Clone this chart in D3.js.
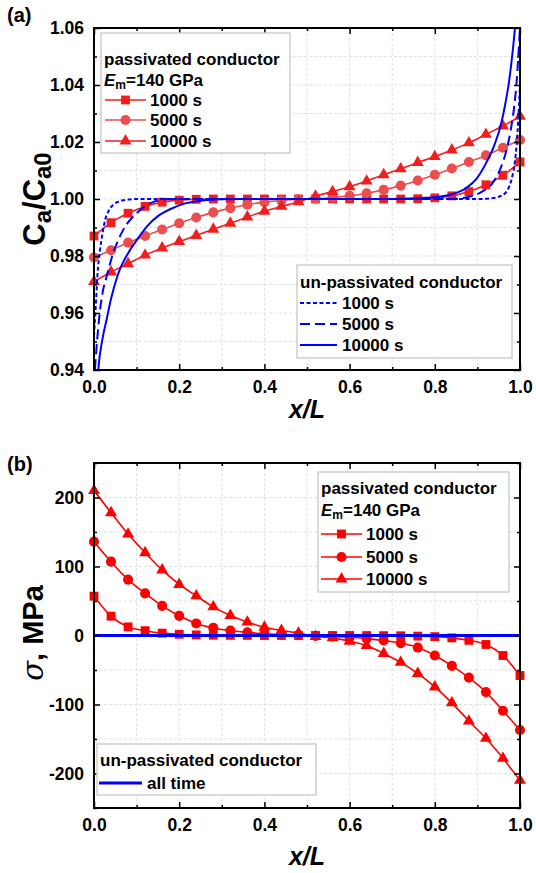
<!DOCTYPE html>
<html><head><meta charset="utf-8">
<script src="https://cdn.jsdelivr.net/npm/d3@7"></script>
<style>
body{margin:0;background:#fff;}
svg text{font-family:"Liberation Sans",Arial,sans-serif;font-weight:bold;fill:#000;}
</style></head><body>
<svg id="chart" width="536" height="873"></svg>
<script>
// ---------- DATA ----------
const xPos = [0,0.04,0.08,0.12,0.16,0.20,0.24,0.28,0.32,0.36,0.40,0.44,0.48,0.52,0.56,0.60,0.64,0.68,0.72,0.76,0.80,0.84,0.88,0.92,0.96,1.00];
// (a) normalized concentration, passivated conductor
const caP1000  = [0.987,0.9917,0.9950,0.9974,0.9989,0.9996,0.9999,1.0,1.0,1.0,1.0,1.0,1.0,1.0,1.0,1.0,1.0,1.0,1.0,1.0001,1.0004,1.0011,1.0026,1.0050,1.0083,1.013];
const caP5000  = [0.9795,0.982,0.9847,0.987,0.9893,0.9915,0.9935,0.9953,0.9968,0.998,0.9989,0.9995,0.9999,1.0001,1.0005,1.0011,1.002,1.0032,1.0047,1.0065,1.0085,1.0107,1.013,1.0153,1.018,1.0207];
const caP10000 = [0.971,0.9744,0.9773,0.9803,0.9828,0.9851,0.9872,0.9894,0.9915,0.9937,0.9957,0.9974,0.999,1.001,1.0026,1.0043,1.0063,1.0085,1.0106,1.0128,1.0149,1.0172,1.0197,1.0227,1.0256,1.029];
// (a) un-passivated conductor curves [x, Ca/Ca0]
const caU1000 = [[0,0.952],[0.004,0.962],[0.008,0.973],[0.014,0.982],[0.02,0.988],[0.026,0.9926],[0.035,0.996],[0.045,0.998],[0.06,0.9992],[0.08,0.9998],[0.1,1.0],[0.9,1.0],[0.93,1.0002],[0.95,1.0008],[0.965,1.002],[0.975,1.0045],[0.982,1.008],[0.988,1.013],[0.992,1.019],[0.996,1.028],[1.0,1.04]];
const caU5000 = [[0,0.935],[0.005,0.946],[0.01,0.955],[0.015,0.962],[0.02,0.967],[0.03,0.973],[0.045,0.981],[0.068,0.989],[0.1,0.995],[0.14,0.999],[0.18,1.0],[0.84,1.0],[0.88,1.0008],[0.91,1.0025],[0.935,1.0055],[0.955,1.011],[0.968,1.017],[0.978,1.024],[0.986,1.032],[0.992,1.041],[0.996,1.05],[1.0,1.06]];
const caU10000 = [[0,0.91],[0.005,0.928],[0.01,0.94],[0.02,0.951],[0.03,0.958],[0.04,0.965],[0.055,0.973],[0.08,0.981],[0.1,0.9855],[0.125,0.9905],[0.15,0.994],[0.18,0.9965],[0.21,0.9983],[0.25,0.9994],[0.3,0.9999],[0.35,1.0],[0.7,1.0],[0.78,1.0004],[0.83,1.0013],[0.87,1.0035],[0.9,1.0075],[0.92,1.0125],[0.94,1.019],[0.955,1.026],[0.965,1.033],[0.975,1.042],[0.985,1.055],[0.99,1.063],[1.0,1.085]];
// (b) stress, passivated conductor (MPa)
const sP1000  = [57,28,12.5,7,3.4,1.8,0.9,0.4,0.2,0.1,0,0,0,0,0,0,-0.1,-0.2,-0.4,-0.9,-1.6,-3.4,-7,-13,-29,-58];
const sP5000  = [136,107,81,61,43,28.5,17.5,11,7.2,4.5,2.6,1.4,0.5,-0.5,-1.4,-2.6,-4.5,-7.2,-11,-17.5,-29,-44,-61,-82,-109,-137];
const sP10000 = [210,178,147,120,95,74,57.5,41.5,29,19.5,12,7.3,3.4,-1.5,-3.4,-8.3,-14.6,-26,-39,-55,-74.6,-97.6,-124,-149,-178,-210];
// (b) un-passivated conductor, all time
const sU = [[0,0],[1,0]];
// ticks
const xMajor = [0,0.2,0.4,0.6,0.8,1.0];
const xMinor = [0.1,0.3,0.5,0.7,0.9];
const yAMajor = [0.94,0.96,0.98,1.00,1.02,1.04,1.06];
const yAMinor = [0.95,0.97,0.99,1.01,1.03,1.05];
const yBMajor = [-200,-100,0,100,200];
const yBMinor = [-250,-150,-50,50,150,250];

// ---------- LAYOUT ----------
const svg = d3.select("#chart");
const L = 94, R = 520;
const RED = "#ff0000", BLUE = "#0000ff";
const x = d3.scaleLinear().domain([0,1]).range([L,R]);
const yA = d3.scaleLinear().domain([0.94,1.06]).range([370,28]);
const yB = d3.scaleLinear().domain([-250,250]).range([808,463]);

function panel(id, y, yMaj, yMin){
  const [y0,y1] = y.range();
  const g = svg.append("g");
  const gx = xMajor.concat(xMinor).filter(v=>v>0&&v<1);
  g.selectAll(null).data(gx).enter().append("line")
    .attr("x1",d=>x(d)).attr("x2",d=>x(d)).attr("y1",y1).attr("y2",y0)
    .attr("stroke","#d9d9d9").attr("stroke-width",0.8).attr("stroke-dasharray","3,2");
  const gy = yMaj.concat(yMin).filter(v=>y(v)>y1+1&&y(v)<y0-1);
  g.selectAll(null).data(gy).enter().append("line")
    .attr("y1",d=>y(d)).attr("y2",d=>y(d)).attr("x1",L).attr("x2",R)
    .attr("stroke","#d9d9d9").attr("stroke-width",0.8).attr("stroke-dasharray","3,2");
  svg.append("clipPath").attr("id",id).append("rect")
    .attr("x",L).attr("y",y1).attr("width",R-L).attr("height",y0-y1);
  return g;
}
function axes(y, yMaj, yMin, fmt){
  const [y0,y1] = y.range();
  const mk = (sel)=>{sel.select(".domain").remove(); sel.selectAll("line").attr("stroke","#000").attr("stroke-width",1.5);
    sel.selectAll("text").style("font-size","17.5px").style("font-family","Liberation Sans, Arial, sans-serif").style("font-weight","bold");};
  svg.append("g").attr("transform",`translate(0,${y0})`).call(d3.axisBottom(x).tickValues(xMajor).tickSize(-6).tickPadding(11).tickFormat(d3.format(".1f"))).call(mk);
  svg.append("g").attr("transform",`translate(0,${y0})`).call(d3.axisBottom(x).tickValues(xMinor).tickSize(-3).tickFormat("")).call(mk);
  svg.append("g").attr("transform",`translate(0,${y1})`).call(d3.axisTop(x).tickValues(xMajor).tickSize(-6).tickFormat("")).call(mk);
  svg.append("g").attr("transform",`translate(0,${y1})`).call(d3.axisTop(x).tickValues(xMinor).tickSize(-3).tickFormat("")).call(mk);
  svg.append("g").attr("transform",`translate(${L},0)`).call(d3.axisLeft(y).tickValues(yMaj).tickSize(-6).tickPadding(10).tickFormat(fmt)).call(mk);
  svg.append("g").attr("transform",`translate(${L},0)`).call(d3.axisLeft(y).tickValues(yMin).tickSize(-3).tickFormat("")).call(mk);
  svg.append("g").attr("transform",`translate(${R},0)`).call(d3.axisRight(y).tickValues(yMaj).tickSize(-6).tickFormat("")).call(mk);
  svg.append("g").attr("transform",`translate(${R},0)`).call(d3.axisRight(y).tickValues(yMin).tickSize(-3).tickFormat("")).call(mk);
  svg.append("rect").attr("x",L).attr("y",y1).attr("width",R-L).attr("height",y0-y1)
    .attr("fill","none").attr("stroke","#000").attr("stroke-width",2);
}
const sym = {sq:d3.symbolSquare, ci:d3.symbolCircle, tr:d3.symbolTriangle};
const symSize = {sq:78, ci:80, tr:62};
function redSeries(g, y, vals, s, color, clip){
  const pts = xPos.map((xv,i)=>[xv,vals[i]]);
  const sg = g.append("g").attr("clip-path",`url(#${clip})`);
  sg.append("path").datum(pts).attr("fill","none").attr("stroke",color).attr("stroke-width",1.6)
    .attr("d",d3.line().x(d=>x(d[0])).y(d=>y(d[1])).curve(d3.curveMonotoneX));
  g.append("g").selectAll(null).data(pts).enter().append("path")
    .attr("transform",d=>`translate(${x(d[0])},${y(d[1])})`)
    .attr("d",d3.symbol().type(sym[s]).size(symSize[s])).attr("fill",color);
}
function blueSeries(g, y, pts, dash, w, clip){
  g.append("path").datum(pts).attr("clip-path",`url(#${clip})`).attr("fill","none").attr("stroke",BLUE)
    .attr("stroke-width",w).attr("stroke-dasharray",dash)
    .attr("d",d3.line().x(d=>x(d[0])).y(d=>y(d[1])).curve(d3.curveMonotoneX));
}
function legendBox(x0,y0,x1,y1){
  svg.append("rect").attr("x",x0).attr("y",y0).attr("width",x1-x0).attr("height",y1-y0)
    .attr("fill","#fff").attr("stroke","#cfcfcf").attr("stroke-width",1.5);
}
function legText(tx,ty,str){
  return svg.append("text").attr("x",tx).attr("y",ty).attr("dominant-baseline","central").style("font-size","17px").text(str);
}
function legEm(tx,ty){
  const t = svg.append("text").attr("x",tx).attr("y",ty).attr("dominant-baseline","central").style("font-size","17px");
  t.append("tspan").style("font-style","italic").text("E");
  t.append("tspan").attr("dy",5).style("font-size","12px").text("m");
  t.append("tspan").attr("dy",-5).text("=140 GPa");
}
function legRed(x0,x1,ty,s,color,label){
  svg.append("line").attr("x1",x0).attr("x2",x1).attr("y1",ty).attr("y2",ty).attr("stroke",color).attr("stroke-width",1.6);
  svg.append("path").attr("transform",`translate(${(x0+x1)/2},${ty})`).attr("d",d3.symbol().type(sym[s]).size(symSize[s])).attr("fill",color);
  legText(x1+4,ty,label);
}
function legBlue(x0,x1,ty,dash,w,label){
  svg.append("line").attr("x1",x0).attr("x2",x1).attr("y1",ty).attr("y2",ty).attr("stroke",BLUE).attr("stroke-width",w).attr("stroke-dasharray",dash);
  legText(x1+5,ty,label);
}

// ---------- PANEL (a) ----------
const gA = panel("clipA", yA, yAMajor, yAMinor);
redSeries(gA, yA, caP1000, "sq", "#f21d1d", "clipA");
redSeries(gA, yA, caP5000, "ci", "#ec4d4d", "clipA");
redSeries(gA, yA, caP10000, "tr", "#f21d1d", "clipA");
blueSeries(gA, yA, caU1000, "4,2.5", 2, "clipA");
blueSeries(gA, yA, caU5000, "10,5", 2, "clipA");
blueSeries(gA, yA, caU10000, null, 2, "clipA");
axes(yA, yAMajor, yAMinor, d3.format(".2f"));

legendBox(101,33,290,153);
legText(104,59,"passivated conductor");
legEm(104,80);
legRed(105,146,100,"sq","#f21d1d","1000 s");
legRed(105,146,120,"ci","#ec4d4d","5000 s");
legRed(105,146,141,"tr","#f21d1d","10000 s");

legendBox(297,265,512,358);
legText(300,282,"un-passivated conductor");
legBlue(300,337,303,"4,2.5",2,"1000 s");
legBlue(300,337,324,"10,5",2,"5000 s");
legBlue(300,337,345,null,2,"10000 s");

// ---------- PANEL (b) ----------
const gB = panel("clipB", yB, yBMajor, yBMinor);
redSeries(gB, yB, sP1000, "sq", RED, "clipB");
redSeries(gB, yB, sP5000, "ci", RED, "clipB");
redSeries(gB, yB, sP10000, "tr", RED, "clipB");
blueSeries(gB, yB, sU, null, 3, "clipB");
axes(yB, yBMajor, yBMinor, d => String(d));

legendBox(318,472,509,592);
legText(321,488,"passivated conductor");
legEm(321,510);
legRed(321,362,534,"sq",RED,"1000 s");
legRed(321,362,557,"ci",RED,"5000 s");
legRed(321,362,579,"tr",RED,"10000 s");

legendBox(97,744,316,795);
legText(100,760,"un-passivated conductor");
legBlue(99,142,783,null,3,"all time");

// ---------- TITLES ----------
svg.append("text").attr("x",7).attr("y",15).attr("dominant-baseline","central").style("font-size","20px").text("(a)");
svg.append("text").attr("x",7).attr("y",464).attr("dominant-baseline","central").style("font-size","20px").text("(b)");
[409,856].forEach(cy=>{
  svg.append("text").attr("x",(L+R)/2).attr("y",cy).attr("text-anchor","middle").attr("dominant-baseline","central")
    .style("font-size","25px").style("font-style","italic").text("x/L");
});
{
  const t = svg.append("text").attr("transform",`translate(34,199) rotate(-90)`).attr("text-anchor","middle")
    .attr("dominant-baseline","central").style("font-size","31px");
  t.append("tspan").text("C");
  t.append("tspan").attr("dy",8).style("font-size","24px").text("a");
  t.append("tspan").attr("dy",-8).text("/C");
  t.append("tspan").attr("dy",8).style("font-size","24px").text("a0");
}
{
  const t = svg.append("text").attr("transform",`translate(33,633) rotate(-90)`).attr("text-anchor","middle")
    .attr("dominant-baseline","central").style("font-size","29px");
  t.append("tspan").style("font-style","italic").style("font-family","DejaVu Serif, serif").style("font-weight","normal").text("σ");
  t.append("tspan").text(", MPa");
}
</script>
</body></html>
